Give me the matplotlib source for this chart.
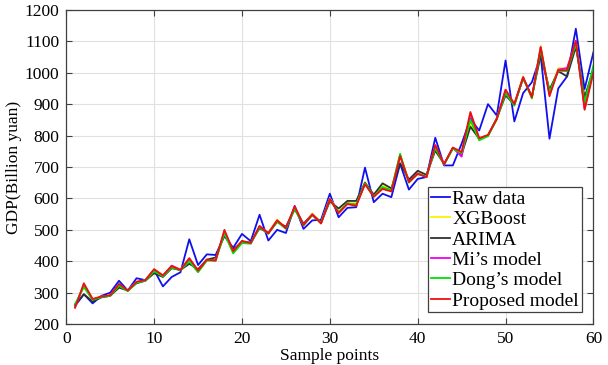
import matplotlib.pyplot as plt
import numpy as np

plt.rcParams['font.family'] = ['Liberation Serif', 'DejaVu Serif']

# Sample index
samples = np.arange(1, 61)

# Series values (Billion yuan)
raw_data = [258, 295, 266, 290, 300, 338, 307, 346, 340, 372,
            320, 350, 365, 470, 388, 422, 420, 480, 443, 487,
            464, 548, 466, 500, 490, 576, 503, 530, 532, 615,
            540, 570, 572, 698, 588, 615, 604, 710, 628, 662,
            668, 793, 705, 705, 774, 853, 816, 900, 864, 1039,
            845, 935, 970, 1055, 790, 950, 988, 1140, 948, 1065]

xgboost = [256, 322, 278, 287, 292, 325, 307, 334, 340, 372,
           356, 384, 374, 405, 368, 406, 404, 492, 430, 462,
           458, 510, 492, 533, 506, 572, 518, 553, 524, 600,
           558, 588, 586, 652, 610, 640, 630, 740, 655, 682,
           668, 765, 708, 760, 745, 838, 788, 800, 855, 940,
           902, 988, 920, 1085, 935, 1015, 1012, 1095, 890, 1005]

arima = [262, 295, 272, 285, 290, 316, 307, 330, 338, 362,
         350, 378, 372, 392, 375, 405, 412, 485, 438, 460,
         460, 505, 490, 525, 510, 565, 520, 548, 525, 590,
         568, 592, 592, 650, 612, 648, 632, 712, 660, 688,
         675, 752, 710, 760, 740, 828, 790, 800, 855, 928,
         898, 982, 925, 1055, 946, 1005, 988, 1082, 922, 1010]

mi_model = [254, 325, 279, 287, 291, 326, 306, 334, 339, 373,
            354, 386, 373, 408, 370, 405, 403, 495, 433, 463,
            457, 512, 490, 530, 505, 573, 516, 550, 522, 598,
            555, 584, 580, 647, 607, 634, 624, 737, 653, 680,
            668, 768, 708, 761, 733, 870, 790, 801, 853, 945,
            900, 986, 921, 1080, 930, 1010, 1015, 1100, 885, 1010]

dong_model = [264, 318, 277, 286, 290, 322, 305, 332, 338, 368,
              352, 380, 371, 400, 365, 402, 402, 488, 425, 458,
              456, 508, 488, 526, 503, 568, 514, 547, 521, 596,
              556, 584, 580, 648, 606, 636, 626, 742, 650, 678,
              670, 760, 708, 758, 744, 850, 785, 798, 852, 935,
              895, 984, 918, 1075, 938, 1006, 1005, 1092, 905, 1023]

proposed = [252, 330, 280, 288, 292, 328, 307, 335, 340, 375,
            355, 385, 372, 410, 370, 405, 402, 500, 432, 465,
            458, 512, 488, 530, 505, 575, 515, 548, 520, 598,
            553, 582, 576, 645, 605, 630, 622, 735, 652, 678,
            668, 770, 708, 762, 748, 875, 792, 802, 852, 946,
            900, 985, 922, 1082, 925, 1008, 1008, 1102, 882, 1000]

labels = ['Raw data', 'XGBoost', 'ARIMA', "Mi\u2019s model", "Dong\u2019s model", 'Proposed model']
colors = ['#1010ee', '#f5f500', '#303030', '#ee00ee', '#00e000', '#ee1010']
series = [raw_data, xgboost, arima, mi_model, dong_model, proposed]

fig = plt.figure(figsize=(6.08, 3.65), dpi=100)
ax = fig.add_axes([0.109, 0.112, 0.867, 0.861])

for vals, lab, col in zip(series, labels, colors):
    ax.plot(samples, vals, color=col, lw=1.3, label=lab)

ax.set_xlim(0, 60)
ax.set_ylim(200, 1200)
ax.set_xticks(np.arange(0, 61, 10))
ax.set_yticks(np.arange(200, 1201, 100))
ax.grid(True, color='#e0e0e0', lw=0.8)
ax.set_axisbelow(True)
ax.tick_params(direction='in', top=True, right=True, labelsize=12.5,
               color='#404040', length=4, pad=5)
for sp in ax.spines.values():
    sp.set_color('#404040')
    sp.set_linewidth(0.9)

ax.set_xlabel('Sample points', fontsize=12.5, labelpad=1)
ax.set_ylabel('GDP(Billion yuan)', fontsize=12.5, labelpad=2)

leg = ax.legend(loc='lower right', fontsize=14, frameon=True, fancybox=False,
                edgecolor='#404040', framealpha=1, borderpad=0.15,
                labelspacing=0.14, handlelength=1.0, handletextpad=0.1,
                borderaxespad=0.6)
leg.get_frame().set_linewidth(0.9)

fig.savefig('out.png', dpi=100)
